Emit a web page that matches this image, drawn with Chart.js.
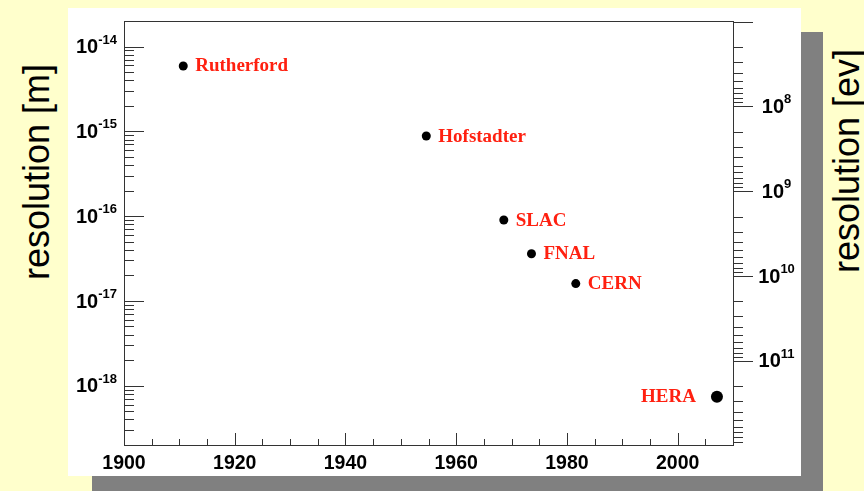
<!DOCTYPE html>
<html>
<head>
<meta charset="utf-8">
<script src="https://cdn.jsdelivr.net/npm/chart.js@4.4.0/dist/chart.umd.min.js"></script>
<style>
  html, body { margin: 0; padding: 0; background: #ffffcc; }
  #wrap { position: relative; width: 864px; height: 491px; overflow: hidden; background: #ffffcc; }
  #shadow { position: absolute; left: 92px; top: 32px; width: 731px; height: 470px; background: #808080; }
  #panel { position: absolute; left: 68px; top: 8px; width: 733px; height: 468px; background: #fff; }
  .ytitle { position: absolute; font: 36px "Liberation Sans", Arial, sans-serif; color: #000; white-space: nowrap;
            transform: translate(-50%, -50%) rotate(-90deg); }
  #tl { left: 37px; top: 172px; }
  #tr { left: 847px; top: 161px; }
  canvas { position: absolute; left: 0; top: 0; }
</style>
</head>
<body>
<div id="wrap">
  <div id="shadow"></div>
  <div id="panel"></div>
  <div class="ytitle" id="tl">resolution [m]</div>
  <div class="ytitle" id="tr">resolution [ev]</div>
  <canvas id="myChart" width="864" height="491"></canvas>
</div>
<script>
// experiments: year and spatial resolution in metres
const years = [1910.7, 1954.6, 1968.6, 1973.6, 1981.6, 2007.1];
const resolutions = [5.9e-15, 8.8e-16, 9.0e-17, 3.6e-17, 1.6e-17, 7.4e-19];
const names = ['Rutherford', 'Hofstadter', 'SLAC', 'FNAL', 'CERN', 'HERA'];
const nameSide = ['right', 'right', 'right', 'right', 'right', 'left'];

// tick labels
const xTickLabels = [1900, 1920, 1940, 1960, 1980, 2000];
const mExponents = [-14, -15, -16, -17, -18];
const evExponents = [8, 9, 10, 11];

const HBARC = 1.97e-7; // eV * m
const yMin = 2e-19, yMax = 2e-14;

const axisColor = '#333';
const sans = '"Liberation Sans", Arial, Helvetica, sans-serif';

function drawPow(ctx, x, y, exp, align) {
  ctx.font = 'bold 20px ' + sans;
  const wBase = ctx.measureText('10').width;
  ctx.font = 'bold 13px ' + sans;
  const wExp = ctx.measureText(exp).width;
  const total = wBase + wExp;
  let x0 = x;
  if (align === 'right') x0 = x - total;
  if (align === 'center') x0 = x - total / 2;
  ctx.textAlign = 'left';
  ctx.textBaseline = 'alphabetic';
  ctx.font = 'bold 20px ' + sans;
  ctx.fillText('10', x0, y + 6.6);
  ctx.font = 'bold 13px ' + sans;
  ctx.fillText(exp, x0 + wBase, y - 3);
}

const frameTicks = {
  id: 'frameTicks',
  afterDatasetsDraw(chart) {
    const { ctx, chartArea: a, scales } = chart;
    const xs = scales.x, ys = scales.y, ys2 = scales.y2;
    ctx.save();
    ctx.strokeStyle = axisColor;
    ctx.lineWidth = 1;
    ctx.strokeRect(Math.round(a.left) + 0.5, Math.round(a.top) + 0.5,
      Math.round(a.right - a.left), Math.round(a.bottom - a.top));

    ctx.beginPath();
    // bottom ticks, pointing up into the plot
    for (let yr = 1905; yr < 2010; yr += 5) {
      const px = Math.round(xs.getPixelForValue(yr)) + 0.5;
      const len = yr % 20 === 0 ? 12 : 6;
      ctx.moveTo(px, a.bottom);
      ctx.lineTo(px, a.bottom - len);
    }
    // left log ticks, inside
    for (let e = -19; e <= -14; e++) {
      for (let m = 1; m <= 9; m++) {
        const v = m * Math.pow(10, e);
        if (v < yMin || v > yMax) continue;
        const py = Math.round(ys.getPixelForValue(v)) + 0.5;
        ctx.moveTo(a.left, py);
        ctx.lineTo(a.left + (m === 1 ? 20 : 10), py);
      }
    }
    // right log ticks (energy), outside
    for (let e = 6; e <= 12; e++) {
      for (let m = 1; m <= 9; m++) {
        const v = m * Math.pow(10, e);
        if (v < ys2.min || v > ys2.max) continue;
        const py = Math.round(ys2.getPixelForValue(v)) + 0.5;
        ctx.moveTo(a.right, py);
        ctx.lineTo(a.right + (m === 1 ? 20 : 10), py);
      }
    }
    ctx.stroke();

    ctx.fillStyle = '#000';
    mExponents.forEach(e => {
      drawPow(ctx, a.left - 7, ys.getPixelForValue(Math.pow(10, e)), String(e), 'right');
    });
    evExponents.forEach(e => {
      drawPow(ctx, a.right + 43.5, ys2.getPixelForValue(Math.pow(10, e)), String(e), 'center');
    });

    // experiment names
    const meta = chart.getDatasetMeta(0);
    ctx.font = 'bold 19px "Liberation Serif", "Times New Roman", serif';
    ctx.fillStyle = '#ff2010';
    ctx.textBaseline = 'alphabetic';
    meta.data.forEach((pt, i) => {
      if (nameSide[i] === 'left') {
        ctx.textAlign = 'right';
        ctx.fillText(names[i], pt.x - 21, pt.y + 5.5);
      } else {
        ctx.textAlign = 'left';
        ctx.fillText(names[i], pt.x + 12, pt.y + 5.5);
      }
    });
    ctx.restore();
  }
};

const ctx = document.getElementById('myChart').getContext('2d');
const myChart = new Chart(ctx, {
  type: 'scatter',
  data: {
    datasets: [{
      label: 'resolution',
      data: years.map((yr, i) => ({ x: yr, y: resolutions[i] })),
      backgroundColor: '#000',
      borderColor: '#000',
      borderWidth: 0,
      pointRadius: c => c.dataIndex === years.length - 1 ? 6 : 4.5,
      yAxisID: 'y'
    }]
  },
  options: {
    responsive: false,
    animation: false,
    layout: { padding: { top: 21, left: 0, right: 0, bottom: 0 } },
    plugins: {
      legend: { display: false },
      tooltip: { enabled: false }
    },
    scales: {
      x: {
        type: 'linear',
        min: 1900,
        max: 2010,
        afterBuildTicks: s => { s.ticks = xTickLabels.map(v => ({ value: v })); },
        afterFit: s => { s.height = 46; },
        grid: { display: false },
        border: { display: false },
        ticks: {
          color: '#000',
          padding: -1,
          maxRotation: 0,
          autoSkip: false,
          callback: v => String(v),
          font: { family: sans, weight: 'bold', size: 19.5 }
        }
      },
      y: {
        type: 'logarithmic',
        position: 'left',
        min: yMin,
        max: yMax,
        afterFit: s => { s.width = 124; },
        grid: { display: false },
        border: { display: false },
        ticks: { display: false }
      },
      y2: {
        type: 'logarithmic',
        position: 'right',
        reverse: true,
        min: HBARC / yMax,
        max: HBARC / yMin,
        afterFit: s => { s.width = 131; },
        grid: { display: false },
        border: { display: false },
        ticks: { display: false }
      }
    }
  },
  plugins: [frameTicks]
});
</script>
</body>
</html>
